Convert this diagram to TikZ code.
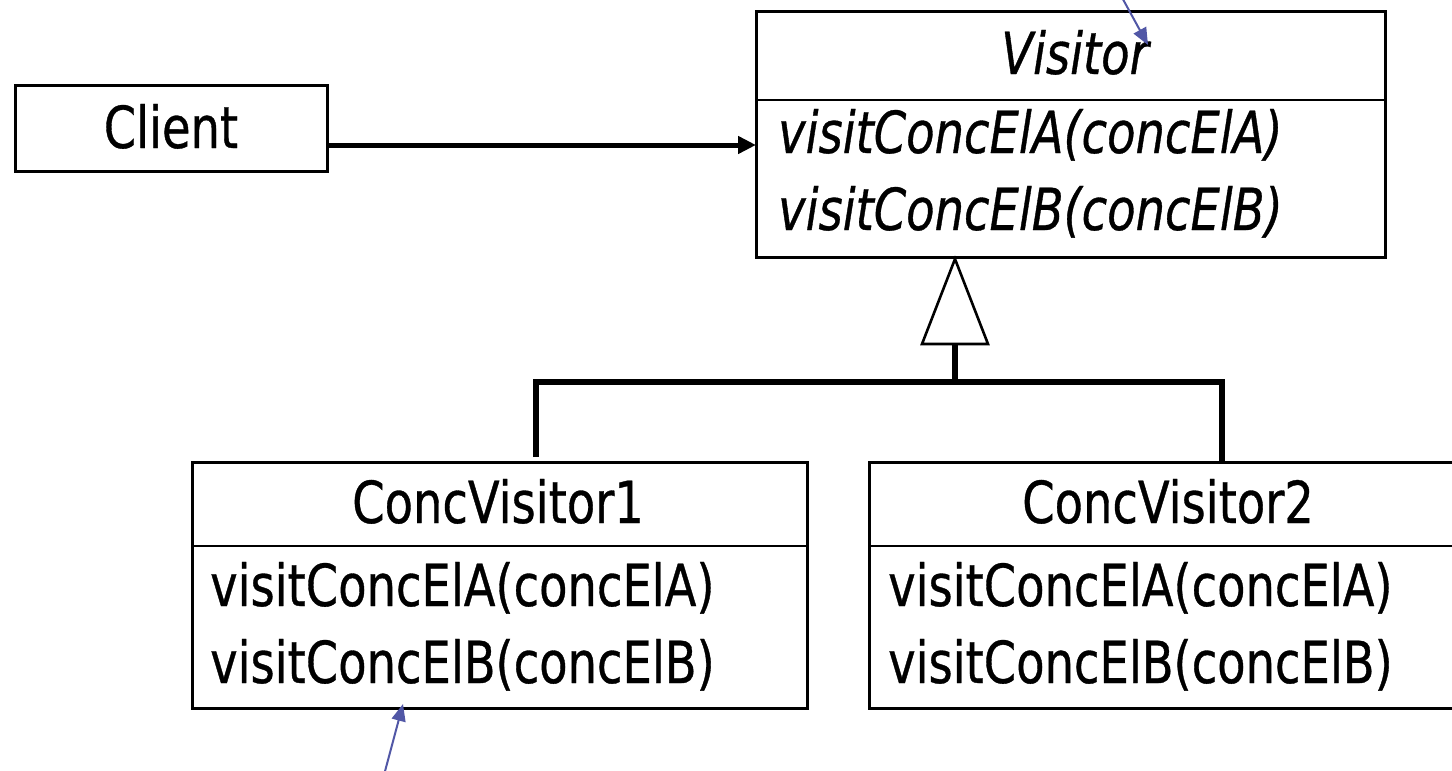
\documentclass[tikz,border=0pt]{standalone}
\usepackage{fontspec}
\setmainfont{DejaVu Sans}[FakeStretch=0.80,
  UprightFeatures={FakeBold=0.6}, ItalicFeatures={FakeBold=0.6}]
\usetikzlibrary{arrows.meta}
\definecolor{noteblue}{HTML}{5157A6}
\tikzset{
  x=1pt, y=-1pt,
  box/.style={draw, line width=2.6pt, inner sep=0pt, anchor=north west},
  sep/.style={line width=2.4pt},
  txt/.style={inner sep=0pt, font=\fontsize{58}{62}\selectfont},
  title/.style={txt, anchor=base},
  meth/.style={txt, anchor=base west},
  assoc/.style={line width=5pt, -{Triangle[length=18pt,width=17pt]}, shorten >=-1pt},
  gen/.style={line width=5.5pt},
  genhead/.style={line width=2.6pt, fill=white, line join=miter},
  note/.style={noteblue, line width=2pt, -{Triangle[length=17pt,width=14pt]}},
}
\begin{document}
\begin{tikzpicture}
\useasboundingbox (0,0) rectangle (1452,771);
\clip (0,0) rectangle (1452,771);

% classes
\node[box, minimum width=312pt, minimum height=86pt] (client) at (14,84) {};
\node[box, minimum width=629pt, minimum height=246pt] (visitor) at (755,10) {};
\node[box, minimum width=615pt, minimum height=246pt] (cv1) at (191,461) {};
\node[box, minimum width=620pt, minimum height=246pt] (cv2) at (868,461) {};

% compartment separators
\draw[sep] (visitor.west |- 0,100) -- (visitor.east |- 0,100);
\draw[sep] (cv1.west |- 0,546) -- (cv1.east |- 0,546);
\draw[sep] (cv2.west |- 0,546) -- (cv2.east |- 0,546);

% texts
\node[title] (tclient) at (171,148) {Client};
\node[title] (tvisitor) at (1075,74) {\itshape Visitor};
\node[meth] (va) at (778,153) {\itshape visitConcElA(concElA)};
\node[meth] (vb) at (778,230) {\itshape visitConcElB(concElB)};
\node[title] (tcv1) at (498,523) {ConcVisitor1};
\node[meth] (c1a) at (210,606) {visitConcElA(concElA)};
\node[meth] (c1b) at (210,683) {visitConcElB(concElB)};
\node[title] (tcv2) at (1168,523) {ConcVisitor2};
\node[meth] (c2a) at (888,606) {visitConcElA(concElA)};
\node[meth] (c2b) at (888,683) {visitConcElB(concElB)};

% association Client -> Visitor
\draw[assoc] (client.east |- 0,145) -- (visitor.west |- 0,145);

% generalisation tree
\coordinate (apex) at (955,259);
\coordinate (base) at (955,344);
\coordinate (bus) at (955,382);
\coordinate (busL) at (536,382);
\coordinate (busR) at (1222,382);
\coordinate (drop1) at (536,457);
\coordinate (drop2) at (1222,462);
\draw[gen] (base) -- (bus);
\draw[gen, line join=miter] (drop1) -- (busL) -- (busR) -- (drop2);
\draw[genhead] (apex) -- ([xshift=33pt]base) -- ([xshift=-33pt]base) -- cycle;

% pointer arrows
\coordinate (p1) at (1119,-8);
\coordinate (q1) at (1148,45);
\draw[note] (p1) -- (q1);
\coordinate (p2) at (384,775);
\coordinate (q2) at (403,704);
\draw[note] (p2) -- (q2);
\end{tikzpicture}
\end{document}
